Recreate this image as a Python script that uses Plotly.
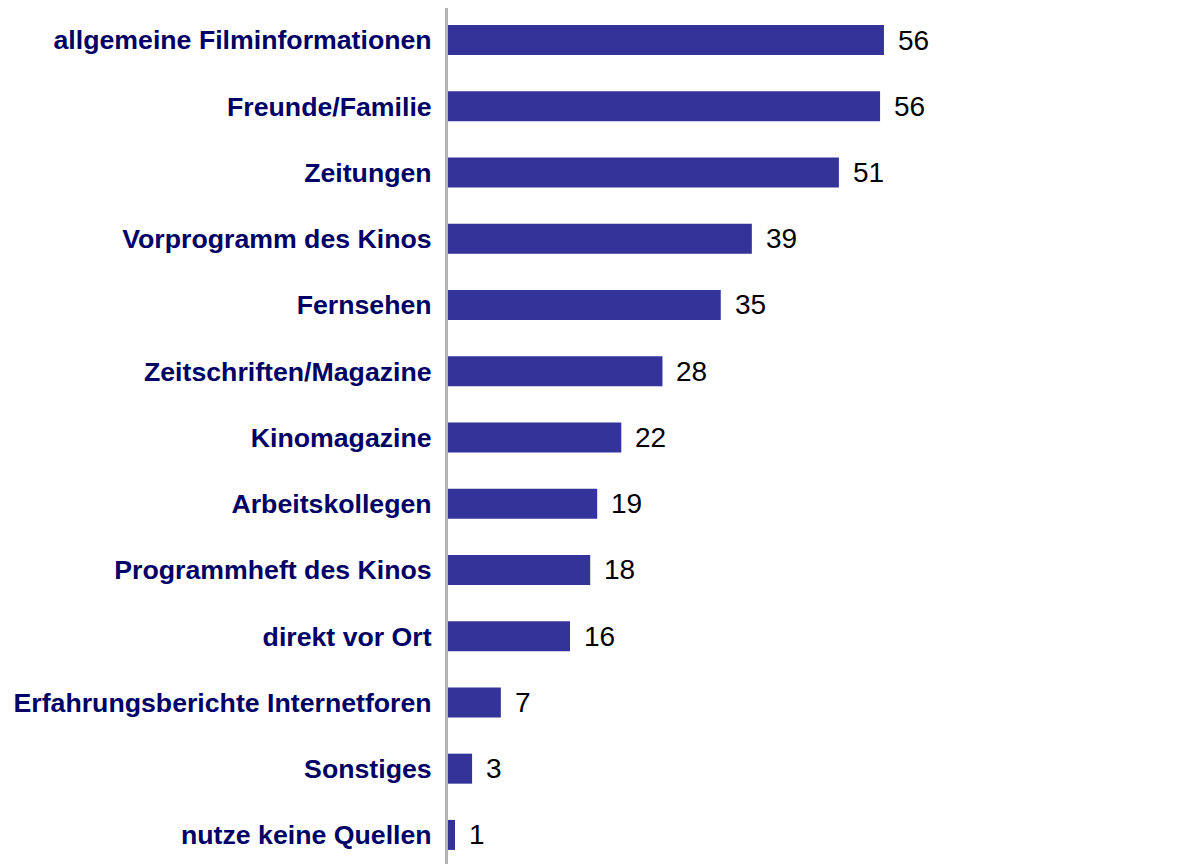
import plotly.graph_objects as go

categories = [
    "allgemeine Filminformationen",
    "Freunde/Familie",
    "Zeitungen",
    "Vorprogramm des Kinos",
    "Fernsehen",
    "Zeitschriften/Magazine",
    "Kinomagazine",
    "Arbeitskollegen",
    "Programmheft des Kinos",
    "direkt vor Ort",
    "Erfahrungsberichte Internetforen",
    "Sonstiges",
    "nutze keine Quellen",
]
values = [56.1, 55.6, 50.3, 39.1, 35.1, 27.6, 22.3, 19.2, 18.3, 15.7, 6.8, 3.1, 0.9]
value_labels = ["56", "56", "51", "39", "35", "28", "22", "19", "18", "16", "7", "3", "1"]

BAR_COLOR = "#333399"
LABEL_COLOR = "#000066"

fig = go.Figure(
    go.Bar(
        x=values,
        y=categories,
        orientation="h",
        marker=dict(color=BAR_COLOR, line=dict(width=0)),
        hoverinfo="skip",
    )
)

for cat, v, lab in zip(categories, values, value_labels):
    fig.add_annotation(
        x=v, y=cat, text=lab, showarrow=False,
        xanchor="left", yanchor="middle", xshift=12,
        font=dict(family="Liberation Sans, Arial, sans-serif", size=28, color="#000000"),
    )

fig.update_layout(
    width=1202,
    height=864,
    margin=dict(l=440, r=2, t=0, b=0),
    paper_bgcolor="white",
    plot_bgcolor="white",
    bargap=0.547,
    showlegend=False,
    xaxis=dict(
        range=[0, 97.8],
        visible=False,
        showgrid=False,
        zeroline=False,
    ),
    yaxis=dict(
        type="category",
        range=[12.56, -0.483],
        showgrid=False,
        zeroline=False,
        showline=True,
        linecolor="#b4b4b4",
        linewidth=3,
        ticks="",
        ticklabelstandoff=8,
        tickfont=dict(family="Liberation Sans, Arial, sans-serif", size=26.7, color=LABEL_COLOR),
    ),
)
fig.update_yaxes(tickprefix="<b>", ticksuffix="</b>")

fig.write_html("out.html")
